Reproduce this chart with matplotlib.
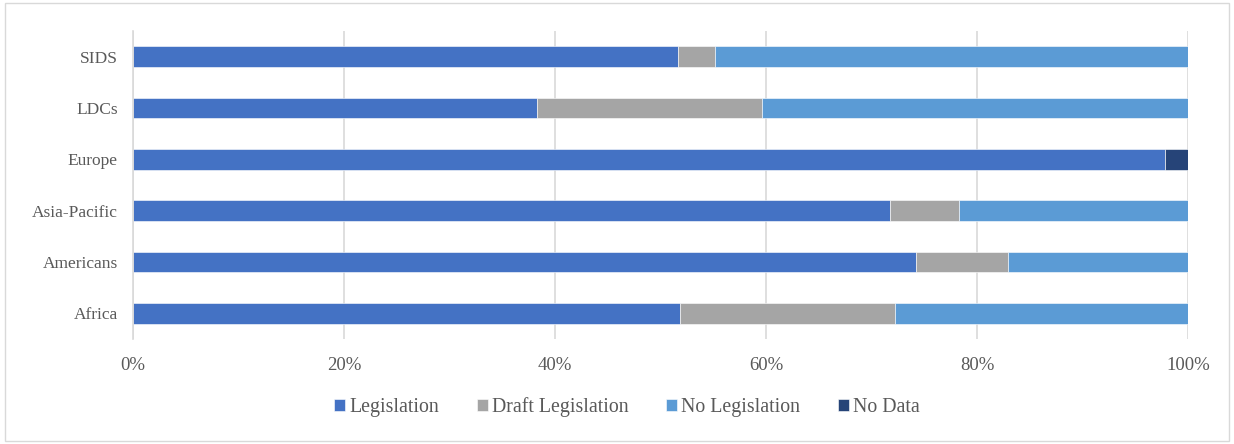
import matplotlib.pyplot as plt
from matplotlib.patches import Rectangle
from matplotlib.ticker import PercentFormatter

plt.rcParams['font.family'] = ['Liberation Serif', 'DejaVu Serif']

regions = ['Africa', 'Americans', 'Asia-Pacific', 'Europe', 'LDCs', 'SIDS']
legislation = [51.8, 74.2, 71.7, 97.8, 38.3, 51.7]
draft = [20.4, 8.7, 6.6, 0.0, 21.3, 3.5]
no_legislation = [27.8, 17.1, 21.7, 0.0, 40.4, 44.8]
no_data = [0.0, 0.0, 0.0, 2.2, 0.0, 0.0]

series = [
    ('Legislation', legislation, '#4472C4'),
    ('Draft Legislation', draft, '#A5A5A5'),
    ('No Legislation', no_legislation, '#5B9BD5'),
    ('No Data', no_data, '#264478'),
]

fig = plt.figure(figsize=(12.34, 4.44), dpi=100)
ax = fig.add_axes([0.1078, 0.2365, 0.855, 0.6935])

left = [0.0] * len(regions)
for name, vals, color in series:
    ax.barh(regions, vals, left=left, height=0.4, color=color, label=name,
            edgecolor='white', linewidth=0.4)
    left = [a + b for a, b in zip(left, vals)]

ax.set_xlim(0, 100)
ax.set_ylim(-0.5, len(regions) - 0.5)
ax.xaxis.set_major_formatter(PercentFormatter(decimals=0))
ax.set_xticks(range(0, 101, 20))
ax.grid(axis='x', color='#D9D9D9', linewidth=1.2)
ax.set_axisbelow(True)
for s in ['top', 'right', 'bottom']:
    ax.spines[s].set_visible(False)
ax.spines['left'].set_color('#D9D9D9')
ax.spines['left'].set_linewidth(1.2)
ax.tick_params(length=0, colors='#595959')
ax.tick_params(axis='y', pad=11, labelsize=12.5)
ax.tick_params(axis='x', pad=13, labelsize=13.5)

leg = fig.legend(loc='center', bbox_to_anchor=(0.508, 0.083), ncol=4, frameon=False,
                 fontsize=14.3, handlelength=0.55, handleheight=0.55, handletextpad=0.2,
                 columnspacing=1.9)
for t in leg.get_texts():
    t.set_color('#595959')

fig.patches.append(Rectangle((0.004, 0.007), 0.992, 0.986, transform=fig.transFigure,
                             fill=False, edgecolor='#D9D9D9', linewidth=1))

fig.savefig('out.png', dpi=100)
